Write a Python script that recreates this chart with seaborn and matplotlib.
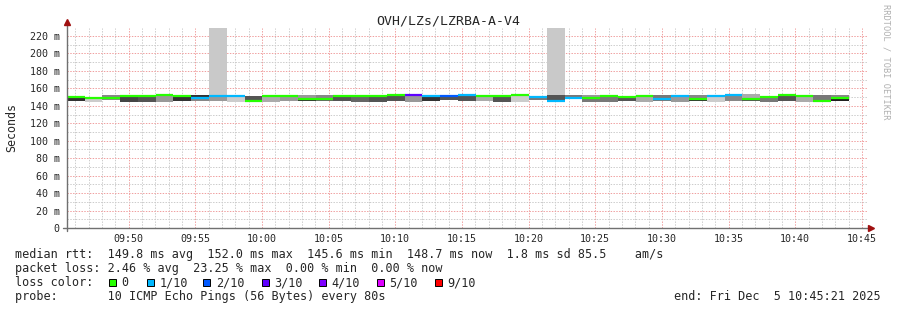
import numpy as np
import pandas as pd
import matplotlib
matplotlib.use("Agg")
import matplotlib.pyplot as plt
import matplotlib.dates as mdates
import matplotlib.ticker as mticker
from matplotlib.patches import Rectangle
import seaborn as sns

# ---------------- data ----------------
TITLE = "OVH/LZs/LZRBA-A-V4"
WINDOW_START = "2025-12-05 09:45:21"
WINDOW_END = "2025-12-05 10:45:21"
FIRST_STEP = "2025-12-05 09:45:22"
STEP_SECONDS = 80

median_ms = [150.0, 149.5, 149.1, 151.0, 151.6, 152.0, 151.6, 149.3, 151.6, 151.6,
             145.8, 151.2, 151.2, 147.6, 147.8, 151.2, 151.2, 150.8, 151.9, 152.0,
             151.1, 151.6, 151.9, 151.6, 151.2, 152.0, 150.4, 145.6, 148.9, 148.9,
             151.0, 150.4, 151.2, 148.2, 151.2, 147.8, 150.8, 151.9, 147.8, 150.4,
             152.0, 151.2, 146.0, 148.7]
smoke_hi_ms = [151.6, 150.6, 152.3, 151.9, 152.3, 153.0, 152.3, 152.7, 152.3, 152.3,
               151.2, 152.0, 152.0, 152.3, 152.3, 152.0, 152.0, 151.6, 153.0, 153.0,
               152.3, 152.7, 153.0, 152.7, 152.3, 153.0, 152.3, 152.3, 152.3, 152.3,
               152.3, 152.3, 152.3, 152.3, 152.3, 152.3, 152.3, 153.0, 153.5, 151.9,
               153.5, 152.3, 152.3, 152.3]
smoke_lo_ms = [145.9, 144.7, 146.6, 144.7, 144.7, 144.7, 145.9, 145.9, 145.9, 144.7,
               144.7, 144.7, 145.9, 145.9, 145.9, 145.9, 144.7, 144.7, 145.9, 144.7,
               145.9, 146.6, 145.9, 145.9, 144.7, 144.7, 146.6, 144.7, 147.4, 144.7,
               144.7, 145.9, 144.7, 145.9, 144.7, 145.9, 144.7, 145.9, 145.9, 144.7,
               145.9, 144.7, 144.7, 145.9]
# ping density of the smoke above / below the median (0 = none, 1 = all pings)
density_above = [0, 0, 0.47, 0, 0, 0, 0, 0.8, 0, 0,
                 0.67, 0, 0, 0.4, 0.47, 0, 0, 0, 0, 0,
                 0, 0, 0, 0, 0, 0, 0, 0.67, 0.53, 0.4,
                 0, 0, 0, 0.53, 0, 0.47, 0, 0, 0.33, 0,
                 0, 0, 0.53, 0.47]
density_below = [0.8, 0.2, 0.47, 0.73, 0.67, 0.4, 0.8, 0.47, 0.4, 0.2,
                 0, 0.33, 0.4, 0.8, 0.6, 0.67, 0.6, 0.67, 0.67, 0.4,
                 0.8, 0.67, 0.67, 0.33, 0.67, 0.2, 0.53, 0, 0, 0.53,
                 0.53, 0.67, 0.33, 0.53, 0.4, 0.8, 0.2, 0.47, 0.67, 0.53,
                 0.67, 0.33, 0, 0.87]
loss_tenths = [0, 0, 0, 0, 0, 0, 0, 1, 1, 1,
               0, 0, 0, 0, 0, 0, 0, 0, 0, 3,
               1, 2, 1, 0, 0, 0, 1, 1, 1, 0,
               0, 0, 0, 1, 1, 0, 1, 1, 0, 0,
               0, 0, 0, 0]
# slowest ping of a step when it went off the chart
outlier_ms = [np.nan] * 8 + [260.0] + [np.nan] * 18 + [260.0] + [np.nan] * 16

loss_levels = [0, 1, 2, 3, 4, 5, 9]
loss_labels = ["0", "1/10", "2/10", "3/10", "4/10", "5/10", "9/10"]
loss_colors = ["#26ff00", "#00b8ff", "#0059ff", "#5e00ff", "#7e00ff", "#dd00ff", "#ff0000"]

y_ticks = list(range(0, 221, 20))
y_tick_labels = ["0"] + [f"{v} m" for v in y_ticks[1:]]
Y_MAX = 229.2

line_rtt = "median rtt:  149.8 ms avg  152.0 ms max  145.6 ms min  148.7 ms now  1.8 ms sd 85.5    am/s"
line_loss = "packet loss: 2.46 % avg  23.25 % max  0.00 % min  0.00 % now"
line_color = "loss color:"
line_probe = "probe:       10 ICMP Echo Pings (56 Bytes) every 80s"
line_end = "end: Fri Dec  5 10:45:21 2025"
y_label = "Seconds"
watermark = "RRDTOOL / TOBI OETIKER"

# ---------------- style ----------------
sns.set_style("white")
plt.rcParams["font.family"] = ["DejaVu Sans Mono"]

W, H = 897, 310
fig = plt.figure(figsize=(W / 100, H / 100), dpi=100, facecolor="white")
ax = fig.add_axes([66.5 / W, (H - 228) / H, 800 / W, 200 / H])
ax.set_facecolor("white")

def px(x, y):
    return x / W, 1 - y / H

n = len(median_ms)
starts = pd.date_range(FIRST_STEP, periods=n, freq=f"{STEP_SECONDS}s")
xs = mdates.date2num(starts)
width = STEP_SECONDS / 86400.0
med = np.array(median_ms)
hi = np.array(smoke_hi_ms)
lo = np.array(smoke_lo_ms)
outl = np.array(outlier_ms)
da = np.array(density_above)
db = np.array(density_below)

# off-chart smoke
m = ~np.isnan(outl)
ax.bar(xs[m], outl[m] - hi[m], bottom=hi[m], width=width, align="edge",
       color="#c9c9c9", linewidth=0, zorder=2)
# smoke above and below the median
m = da > 0
ax.bar(xs[m], hi[m] - med[m], bottom=med[m], width=width, align="edge",
       color=[str(round(1 - d, 3)) for d in da[m]], linewidth=0, zorder=2)
m = db > 0
ax.bar(xs[m], med[m] - lo[m], bottom=lo[m], width=width, align="edge",
       color=[str(round(1 - d, 3)) for d in db[m]], linewidth=0, zorder=2)

# median line coloured by packet loss
color_of = dict(zip(loss_levels, loss_colors))
rows = []
for i in range(n):
    rows.append({"seg": f"s{i}", "x": xs[i], "rtt": med[i]})
    rows.append({"seg": f"s{i}", "x": xs[i] + width, "rtt": med[i]})
df = pd.DataFrame(rows)
pal = {f"s{i}": color_of[loss_tenths[i]] for i in range(n)}
sns.lineplot(data=df, x="x", y="rtt", hue="seg", palette=pal, estimator=None,
             sort=False, legend=False, linewidth=1.6, ax=ax, zorder=3)
for l in ax.lines:
    l.set_solid_capstyle("butt")

# axes
ax.set_xlim(mdates.date2num(pd.Timestamp(WINDOW_START)), mdates.date2num(pd.Timestamp(WINDOW_END)))
ax.set_ylim(0, Y_MAX)
ax.set_xlabel("")
ax.set_ylabel("")
ax.xaxis.set_major_locator(mdates.MinuteLocator(byminute=range(0, 60, 5)))
ax.xaxis.set_minor_locator(mdates.MinuteLocator())
ax.xaxis.set_major_formatter(mdates.DateFormatter("%H:%M"))
ax.set_yticks(y_ticks)
ax.set_yticklabels(y_tick_labels)
ax.yaxis.set_minor_locator(mticker.MultipleLocator(10))
ax.tick_params(axis="both", which="major", labelsize=7.2, length=3, width=0.8,
               color="#707070", pad=2, direction="out")
ax.tick_params(axis="x", which="major", pad=1.2)
ax.tick_params(axis="both", which="minor", length=2, width=0.6, color="#909090", direction="out")
ax.grid(which="major", color="#f0a0a0", linestyle=(0, (1.4, 1.4)), linewidth=0.72)
ax.grid(which="minor", color="#cccccc", linestyle=(0, (1.4, 1.4)), linewidth=0.72)
ax.set_axisbelow(True)
for s in ax.spines.values():
    s.set_visible(False)
ax.plot([0, 0], [-0.015, 1.03], transform=ax.transAxes, color="#707070", lw=1, clip_on=False, zorder=5)
ax.plot([-0.005, 1.005], [0, 0], transform=ax.transAxes, color="#707070", lw=1, clip_on=False, zorder=5)
ax.plot([0.001], [1.03], marker="^", ms=4, color="#a01010", transform=ax.transAxes, clip_on=False, zorder=6)
ax.plot([1.0056], [0.0], marker=">", ms=4, color="#a01010", transform=ax.transAxes, clip_on=False, zorder=6)

# titles and legend texts
fig.text(*px(448, 24), TITLE, ha="center", va="baseline", fontsize=9.5)
fig.text(*px(12, 127), y_label, rotation=90, ha="center", va="center", fontsize=8.4)
fig.text(*px(886, 4), watermark, rotation=270, ha="center", va="top", fontsize=6.2, color="#b0b0b0")

LEG_FS = 8.5
X0 = 15
fig.text(*px(X0, 258), line_rtt, fontsize=LEG_FS, va="baseline")
fig.text(*px(X0, 272), line_loss, fontsize=LEG_FS, va="baseline")
fig.text(*px(X0, 286), line_color, fontsize=LEG_FS, va="baseline")
fig.text(*px(X0, 300), line_probe, fontsize=LEG_FS, va="baseline")
fig.text(*px(881, 300), line_end, fontsize=LEG_FS, va="baseline", ha="right")

box_x = [109, 146.7, 203.3, 261.7, 319.3, 376.7, 435]
for bx, lab, col in zip(box_x, loss_labels, loss_colors):
    fx, fy = px(bx, 286.3)
    fig.patches.append(Rectangle((fx, fy), 7 / W, 7 / H, transform=fig.transFigure,
                                 facecolor=col, edgecolor="black", linewidth=0.7))
    fig.text(*px(bx + 12.5, 286), lab, fontsize=LEG_FS, va="baseline")

fig.savefig("out.png", dpi=100, facecolor="white")
